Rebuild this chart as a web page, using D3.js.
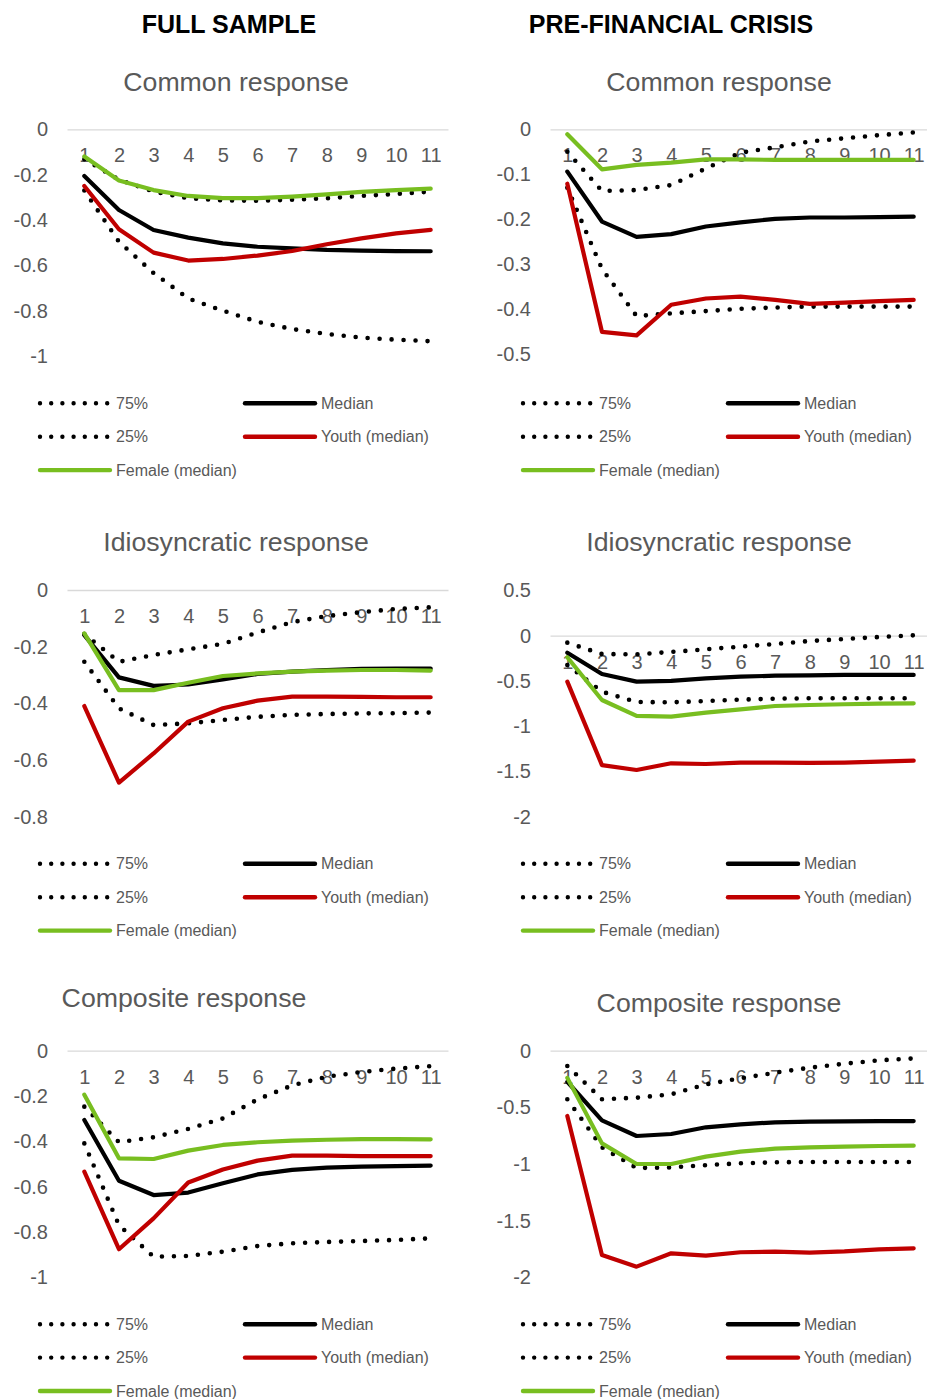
<!DOCTYPE html>
<html>
<head>
<meta charset="utf-8">
<script src="https://cdn.jsdelivr.net/npm/d3@7"></script>
<style>
  html, body { margin: 0; padding: 0; background: #fff; }
  svg { display: block; font-family: "Liberation Sans", Arial, sans-serif; }
</style>
</head>
<body>
<svg id="chart" width="927" height="1399"></svg>
<script>
// Horizon (periods after the shock)
const periods = [1, 2, 3, 4, 5, 6, 7, 8, 9, 10, 11];

// Column headings and panel titles
const columnHeads = ["FULL SAMPLE", "PRE-FINANCIAL CRISIS"];
const panelTitles = ["Common response", "Common response",
                     "Idiosyncratic response", "Idiosyncratic response",
                     "Composite response", "Composite response"];

// Legend entries
const legendLabels = ["75%", "Median", "25%", "Youth (median)", "Female (median)"];

// Y-axis tick values per panel
const ticksFullCommon  = [0, -0.2, -0.4, -0.6, -0.8, -1];
const ticksPreCommon   = [0, -0.1, -0.2, -0.3, -0.4, -0.5];
const ticksFullIdio    = [0, -0.2, -0.4, -0.6, -0.8];
const ticksPreIdio     = [0.5, 0, -0.5, -1, -1.5, -2];
const ticksFullComp    = [0, -0.2, -0.4, -0.6, -0.8, -1];
const ticksPreComp     = [0, -0.5, -1, -1.5, -2];

// Full sample, common response
const fullCommonP75    = [-0.132, -0.222, -0.275, -0.304, -0.314, -0.315, -0.311, -0.304, -0.294, -0.285, -0.275];
const fullCommonMedian = [-0.206, -0.356, -0.444, -0.478, -0.503, -0.518, -0.525, -0.532, -0.535, -0.537, -0.538];
const fullCommonP25    = [-0.27, -0.496, -0.634, -0.746, -0.80, -0.849, -0.881, -0.903, -0.919, -0.928, -0.935];
const fullCommonYouth  = [-0.25, -0.441, -0.544, -0.579, -0.572, -0.557, -0.537, -0.507, -0.481, -0.459, -0.444];
const fullCommonFemale = [-0.12, -0.226, -0.268, -0.294, -0.304, -0.304, -0.297, -0.287, -0.276, -0.268, -0.262];

// Pre-financial crisis, common response
const preCommonP75     = [-0.05, -0.137, -0.135, -0.124, -0.087, -0.052, -0.04, -0.027, -0.02, -0.013, -0.007];
const preCommonMedian  = [-0.094, -0.205, -0.239, -0.233, -0.216, -0.207, -0.199, -0.196, -0.196, -0.195, -0.194];
const preCommonP25     = [-0.13, -0.31, -0.415, -0.409, -0.404, -0.399, -0.396, -0.394, -0.394, -0.394, -0.394];
const preCommonYouth   = [-0.121, -0.45, -0.458, -0.39, -0.376, -0.372, -0.379, -0.388, -0.385, -0.382, -0.379];
const preCommonFemale  = [-0.011, -0.089, -0.079, -0.074, -0.067, -0.067, -0.068, -0.068, -0.068, -0.068, -0.068];

// Full sample, idiosyncratic response
const fullIdioP75      = [-0.155, -0.253, -0.229, -0.209, -0.19, -0.15, -0.113, -0.092, -0.078, -0.067, -0.061];
const fullIdioMedian   = [-0.159, -0.308, -0.338, -0.333, -0.315, -0.296, -0.288, -0.282, -0.278, -0.277, -0.277];
const fullIdioP25      = [-0.253, -0.417, -0.476, -0.47, -0.458, -0.447, -0.44, -0.437, -0.435, -0.434, -0.432];
const fullIdioYouth    = [-0.409, -0.679, -0.576, -0.464, -0.417, -0.39, -0.376, -0.376, -0.377, -0.378, -0.378];
const fullIdioFemale   = [-0.153, -0.353, -0.353, -0.327, -0.303, -0.294, -0.288, -0.284, -0.282, -0.282, -0.284];

// Pre-financial crisis, idiosyncratic response
const preIdioP75       = [-0.077, -0.203, -0.206, -0.18, -0.151, -0.121, -0.092, -0.059, -0.037, -0.015, 0.004];
const preIdioMedian    = [-0.188, -0.423, -0.508, -0.5, -0.471, -0.453, -0.442, -0.438, -0.434, -0.434, -0.434];
const preIdioP25       = [-0.324, -0.619, -0.733, -0.736, -0.722, -0.707, -0.696, -0.692, -0.692, -0.692, -0.692];
const preIdioYouth     = [-0.508, -1.43, -1.484, -1.41, -1.418, -1.403, -1.403, -1.406, -1.403, -1.392, -1.38];
const preIdioFemale    = [-0.239, -0.711, -0.887, -0.895, -0.85, -0.814, -0.777, -0.766, -0.758, -0.751, -0.747];

// Full sample, composite response
const fullCompP75      = [-0.247, -0.404, -0.382, -0.345, -0.299, -0.215, -0.153, -0.115, -0.094, -0.079, -0.068];
const fullCompMedian   = [-0.306, -0.574, -0.637, -0.626, -0.585, -0.546, -0.526, -0.516, -0.512, -0.509, -0.507];
const fullCompP25      = [-0.409, -0.77, -0.909, -0.906, -0.887, -0.862, -0.85, -0.844, -0.84, -0.835, -0.828];
const fullCompYouth    = [-0.534, -0.876, -0.74, -0.582, -0.524, -0.485, -0.463, -0.463, -0.465, -0.465, -0.465];
const fullCompFemale   = [-0.194, -0.475, -0.478, -0.441, -0.416, -0.404, -0.397, -0.393, -0.39, -0.39, -0.391];

// Pre-financial crisis, composite response
const preCompP75       = [-0.135, -0.428, -0.415, -0.385, -0.297, -0.244, -0.194, -0.15, -0.115, -0.085, -0.068];
const preCompMedian    = [-0.274, -0.615, -0.753, -0.735, -0.676, -0.65, -0.632, -0.626, -0.624, -0.621, -0.621];
const preCompP25       = [-0.429, -0.853, -1.035, -1.03, -1.01, -0.994, -0.985, -0.982, -0.982, -0.982, -0.982];
const preCompYouth     = [-0.576, -1.803, -1.906, -1.788, -1.809, -1.779, -1.774, -1.782, -1.771, -1.753, -1.744];
const preCompFemale    = [-0.24, -0.818, -1.0, -1.0, -0.935, -0.891, -0.865, -0.853, -0.847, -0.841, -0.838];

// ---- styling ----
const GRAY_TEXT = "#595959";
const AXIS_LINE = "#D9D9D9";
const RED = "#C00000";
const GREEN = "#78BE20";

// series styles in drawing order: 75%, median, 25%, youth, female
const seriesStyle = [
  { color: "#000", dotted: true },
  { color: "#000", dotted: false },
  { color: "#000", dotted: true },
  { color: RED,   dotted: false },
  { color: GREEN, dotted: false }
];

// panel layout: left edge of plot, y range (value domain -> pixels)
const plotWidth = 381;
const panels = [
  { x0: 67,  domain: [-1, 0],   range: [356, 129.3],    ticks: ticksFullCommon,
    series: [fullCommonP75, fullCommonMedian, fullCommonP25, fullCommonYouth, fullCommonFemale],
    title: panelTitles[0], titleX: 236, titleY: 91, legendY: 403.3 },
  { x0: 550, domain: [-0.5, 0], range: [354.3, 129.3],  ticks: ticksPreCommon,
    series: [preCommonP75, preCommonMedian, preCommonP25, preCommonYouth, preCommonFemale],
    title: panelTitles[1], titleX: 719, titleY: 91, legendY: 403.3 },
  { x0: 67,  domain: [-0.8, 0], range: [817, 590],      ticks: ticksFullIdio,
    series: [fullIdioP75, fullIdioMedian, fullIdioP25, fullIdioYouth, fullIdioFemale],
    title: panelTitles[2], titleX: 236, titleY: 551, legendY: 863.8 },
  { x0: 550, domain: [-2, 0.5], range: [816.7, 590.4],  ticks: ticksPreIdio,
    series: [preIdioP75, preIdioMedian, preIdioP25, preIdioYouth, preIdioFemale],
    title: panelTitles[3], titleX: 719, titleY: 551, legendY: 863.8 },
  { x0: 67,  domain: [-1, 0],   range: [1277.3, 1050.7], ticks: ticksFullComp,
    series: [fullCompP75, fullCompMedian, fullCompP25, fullCompYouth, fullCompFemale],
    title: panelTitles[4], titleX: 184, titleY: 1007, legendY: 1324.2 },
  { x0: 550, domain: [-2, 0],   range: [1277.3, 1050.7], ticks: ticksPreComp,
    series: [preCompP75, preCompMedian, preCompP25, preCompYouth, preCompFemale],
    title: panelTitles[5], titleX: 719, titleY: 1012, legendY: 1324.2 }
];

const svg = d3.select("#chart");

// column headings
svg.selectAll("text.head")
  .data(columnHeads)
  .join("text")
  .attr("class", "head")
  .attr("x", (d, i) => [229, 671][i])
  .attr("y", 33)
  .attr("text-anchor", "middle")
  .attr("font-size", 25)
  .attr("font-weight", "bold")
  .attr("fill", "#000")
  .text(d => d);

const fmt = v => String(+v.toFixed(2));

panels.forEach(p => {
  const g = svg.append("g");

  const x = d3.scalePoint()
    .domain(periods)
    .range([p.x0, p.x0 + plotWidth])
    .padding(0.5);

  const y = d3.scaleLinear().domain(p.domain).range(p.range);

  // title
  g.append("text")
    .attr("x", p.titleX)
    .attr("y", p.titleY)
    .attr("text-anchor", "middle")
    .attr("font-size", 26.7)
    .attr("fill", GRAY_TEXT)
    .text(p.title);

  // value axis (labels only)
  const yAxis = g.append("g")
    .attr("transform", `translate(${p.x0},0)`)
    .call(d3.axisLeft(y).tickValues(p.ticks).tickFormat(fmt).tickSize(0).tickPadding(19));
  yAxis.select(".domain").remove();
  yAxis.selectAll("text")
    .attr("font-size", 20)
    .attr("font-family", "Liberation Sans, Arial, sans-serif")
    .attr("fill", GRAY_TEXT);

  // category axis crossing at zero
  const xAxis = g.append("g")
    .attr("transform", `translate(0,${y(0)})`)
    .call(d3.axisBottom(x).tickSize(0).tickPadding(19));
  xAxis.select(".domain").attr("stroke", AXIS_LINE).attr("stroke-width", 1.3);
  xAxis.selectAll("text")
    .attr("font-size", 20)
    .attr("font-family", "Liberation Sans, Arial, sans-serif")
    .attr("fill", GRAY_TEXT);

  // series
  const line = d3.line()
    .x((d, i) => x(periods[i]))
    .y(d => y(d));

  p.series.forEach((vals, k) => {
    const st = seriesStyle[k];
    const path = g.append("path")
      .datum(vals)
      .attr("d", line)
      .attr("fill", "none")
      .attr("stroke", st.color)
      .attr("stroke-linejoin", "round");
    if (st.dotted) {
      path.attr("stroke-width", 4.6)
        .attr("stroke-linecap", "round")
        .attr("stroke-dasharray", "0 12");
    } else {
      path.attr("stroke-width", 4.2)
        .attr("stroke-linecap", "round");
    }
  });

  // legend
  const lx = p.x0 - 27;
  const legendPos = [
    { x: lx,       row: 0 },
    { x: lx + 205, row: 0 },
    { x: lx,       row: 1 },
    { x: lx + 205, row: 1 },
    { x: lx,       row: 2 }
  ];
  legendLabels.forEach((lab, k) => {
    const st = seriesStyle[k];
    const pos = legendPos[k];
    const ly = p.legendY + pos.row * 33.4;
    const seg = g.append("line")
      .attr("x1", pos.x)
      .attr("x2", st.dotted ? pos.x + 67.5 : pos.x + 70)
      .attr("y1", ly).attr("y2", ly)
      .attr("stroke", st.color)
      .attr("stroke-linecap", "round");
    if (st.dotted) {
      seg.attr("stroke-width", 4.4).attr("stroke-dasharray", "0 11.2");
    } else {
      seg.attr("stroke-width", 4.4);
    }
    g.append("text")
      .attr("x", pos.x + 76)
      .attr("y", ly)
      .attr("dy", "0.35em")
      .attr("font-size", 16)
      .attr("fill", GRAY_TEXT)
      .text(lab);
  });
});
</script>
</body>
</html>
